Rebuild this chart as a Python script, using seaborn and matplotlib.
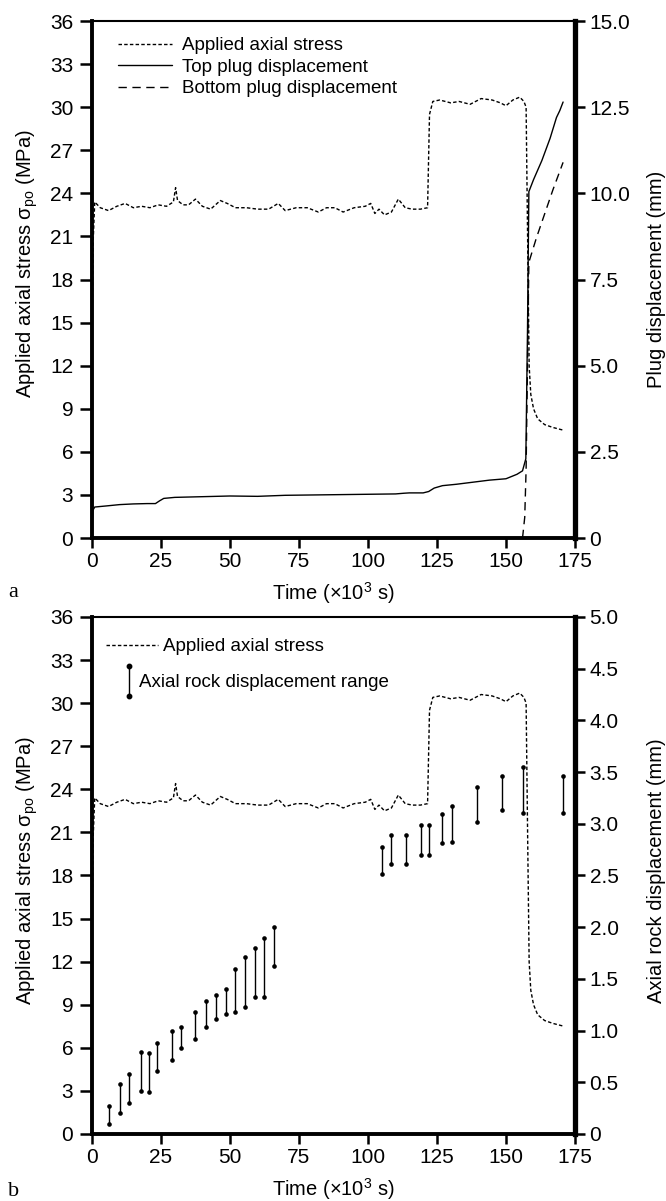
import numpy as np
import pandas as pd
import matplotlib
matplotlib.use('Agg')
import matplotlib.pyplot as plt
import seaborn as sns
from matplotlib.lines import Line2D
from matplotlib.legend_handler import HandlerBase

# 응력 곡선 (두 패널 공통)
stress_t = [0, 0.4, 1, 3, 6, 9, 12, 15, 18, 21, 24, 27, 29.5, 30.3, 31, 33, 35, 37.5, 40, 43,
            46.5, 49, 52, 56, 60, 64, 67.5, 70, 74, 78, 82, 85, 88, 91, 95, 99, 101, 102.5, 104, 106,
            108.5, 111, 113.5, 116, 119, 121.6, 122.3, 123.5, 126, 130, 133, 137, 141, 145, 148, 150,
            152.5, 155, 156.5, 157.3, 157.9, 158.4, 159, 160, 161.5, 164, 167, 171]
stress = [14.0, 20.5, 23.4, 23.0, 22.8, 23.1, 23.3, 23.0, 23.1, 23.0, 23.2, 23.1, 23.4, 24.4, 23.5,
          23.2, 23.2, 23.6, 23.1, 22.9, 23.5, 23.3, 23.0, 23.0, 22.9, 22.9, 23.3, 22.8, 23.0, 23.0,
          22.7, 23.0, 23.0, 22.7, 23.0, 23.1, 23.3, 22.6, 22.9, 22.5, 22.7, 23.6, 23.0, 22.9, 22.9,
          23.0, 29.5, 30.4, 30.5, 30.3, 30.4, 30.2, 30.6, 30.5, 30.3, 30.1, 30.5, 30.7, 30.4, 30.0,
          20.0, 12.0, 10.0, 9.0, 8.3, 7.9, 7.7, 7.5]

# 상부 플러그 변위 (mm)
top_t = [0, 0.3, 1, 5, 10, 15, 20, 23, 24.5, 26, 30, 40, 50, 60, 70, 80, 90, 100, 110, 113,
         115, 120, 122, 124, 127, 132, 138, 144, 150, 154, 156, 157.2, 157.8, 158.3, 160, 163, 166,
         168.3, 169.5, 170.7]
top_disp = [0.35, 0.8, 0.9, 0.93, 0.97, 0.99, 1.0, 1.0, 1.08, 1.15, 1.18, 1.2, 1.22, 1.21, 1.24,
            1.25, 1.26, 1.27, 1.28, 1.30, 1.31, 1.31, 1.35, 1.45, 1.52, 1.56, 1.62, 1.68, 1.72, 1.85,
            1.95, 2.3, 6.0, 10.05, 10.4, 10.95, 11.6, 12.2, 12.4, 12.65]

# 하부 플러그 변위 (mm)
bot_t = [156.0, 156.8, 157.3, 157.8, 158.3, 161, 164, 167, 170.7]
bot_disp = [0.0, 0.6, 2.0, 5.0, 8.0, 8.7, 9.4, 10.1, 10.9]

# 축방향 암석 변위 범위 (mm)
range_t = [6.2, 10.0, 13.4, 17.7, 20.7, 23.7, 29.0, 32.4, 37.3, 41.2, 44.9, 48.6, 51.8, 55.5,
           58.9, 62.4, 66.1, 105.0, 108.5, 113.9, 119.2, 122.0, 126.9, 130.3, 139.4, 148.6, 156.0, 170.8]
range_lo = [0.10, 0.20, 0.30, 0.42, 0.41, 0.61, 0.72, 0.83, 0.92, 1.03, 1.11, 1.16, 1.18, 1.23,
            1.32, 1.32, 1.62, 2.51, 2.61, 2.61, 2.70, 2.70, 2.81, 2.82, 3.02, 3.13, 3.10, 3.10]
range_hi = [0.27, 0.48, 0.58, 0.79, 0.78, 0.88, 1.00, 1.03, 1.18, 1.29, 1.34, 1.40, 1.60, 1.71,
            1.80, 1.90, 2.00, 2.78, 2.89, 2.89, 2.99, 2.99, 3.09, 3.17, 3.36, 3.46, 3.55, 3.46]

stress_ticks = list(range(0, 37, 3))
time_ticks = list(range(0, 176, 25))

sns.set_style('ticks', rc={'axes.edgecolor': 'black', 'xtick.color': 'black', 'ytick.color': 'black',
                           'text.color': 'black', 'axes.labelcolor': 'black'})
plt.rcParams['font.family'] = ['Liberation Sans', 'DejaVu Sans']
plt.rcParams['mathtext.fontset'] = 'custom'
plt.rcParams['mathtext.rm'] = 'Liberation Sans'
plt.rcParams['mathtext.it'] = 'Liberation Sans:italic'
plt.rcParams['axes.unicode_minus'] = False

TICK_FS = 15
LAB_FS = 14.5
LEG_FS = 13.5
stress_ls = (0, (2.5, 1.6))
bot_ls = (0, (6, 4))

df_s = pd.DataFrame({'t': stress_t, 's': stress})
df_top = pd.DataFrame({'t': top_t, 'd': top_disp})
df_bot = pd.DataFrame({'t': bot_t, 'd': bot_disp})
df_r = pd.DataFrame({'t': range_t, 'lo': range_lo, 'hi': range_hi})


class RangeHandler(HandlerBase):
    def create_artists(self, legend, orig_handle, xdescent, ydescent, width, height, fontsize, trans):
        x = width / 2 - xdescent
        ln = Line2D([x, x], [-ydescent - 0.62 * height, -ydescent + 1.62 * height],
                    color='k', lw=1.0, marker='o', ms=3.2, transform=trans)
        return [ln]


def style_axes(ax, ax2, rmax, rstep, rlabel, ly, ry):
    ax.set_xlim(0, 175)
    ax.set_ylim(0, 36)
    ax.set_xticks(time_ticks)
    ax.set_yticks(stress_ticks)
    ax2.set_ylim(0, rmax)
    rt = np.arange(0, rmax + 1e-9, rstep)
    ax2.set_yticks(rt)
    ax2.set_yticklabels(['0'] + ['{:.1f}'.format(v) for v in rt[1:]])
    for side in ['left', 'bottom']:
        ax.spines[side].set_linewidth(2.8)
    ax.spines['top'].set_linewidth(1.5)
    ax.spines['right'].set_visible(False)
    for side in ['left', 'bottom', 'top']:
        ax2.spines[side].set_visible(False)
    ax2.spines['right'].set_linewidth(3.8)
    ax.tick_params(axis='y', direction='out', length=8.5, width=1.8, labelsize=TICK_FS, pad=5)
    ax.tick_params(axis='x', direction='out', length=7, width=1.8, labelsize=TICK_FS, pad=3)
    ax2.tick_params(axis='y', direction='out', length=7, width=1.8, labelsize=TICK_FS, pad=3.5)
    ax.set_xlabel('Time (×10$^{3}$ s)', fontsize=LAB_FS)
    ax.set_ylabel('Applied axial stress σ$_{\\mathrm{po}}$ (MPa)', fontsize=LAB_FS)
    ax2.set_ylabel(rlabel, fontsize=LAB_FS, rotation=90, va='center')
    ax.xaxis.set_label_coords(0.5, -0.081)
    ax.yaxis.set_label_coords(-0.108, ly)
    ax2.yaxis.set_label_coords(1.168, ry)


fig = plt.figure(figsize=(6.66, 12.01), dpi=100)
fig.patch.set_facecolor('white')

# (a) 상부 패널
ax_a = fig.add_axes([0.1381, 0.552, 0.7252, 0.4305])
ax_a2 = ax_a.twinx()
sns.lineplot(data=df_s, x='t', y='s', ax=ax_a, color='k', lw=1.0, linestyle=stress_ls,
             estimator=None, sort=False)
sns.lineplot(data=df_top, x='t', y='d', ax=ax_a2, color='k', lw=1.0, estimator=None, sort=False)
sns.lineplot(data=df_bot, x='t', y='d', ax=ax_a2, color='k', lw=1.0, linestyle=bot_ls,
             estimator=None, sort=False)
style_axes(ax_a, ax_a2, 15.0, 2.5, 'Plug displacement (mm)', 0.53, 0.5)

h_a = [Line2D([], [], color='k', lw=1.0, linestyle=stress_ls),
       Line2D([], [], color='k', lw=1.0),
       Line2D([], [], color='k', lw=1.0, linestyle=bot_ls)]
ax_a.legend(h_a, ['Applied axial stress', 'Top plug displacement', 'Bottom plug displacement'],
            loc='upper left', bbox_to_anchor=(0.054, 0.969), frameon=False, fontsize=LEG_FS,
            borderaxespad=0, borderpad=0, handlelength=2.88, handletextpad=0.53, labelspacing=0.24)

# (b) 하부 패널
ax_b = fig.add_axes([0.1381, 0.0558, 0.7252, 0.4305])
ax_b2 = ax_b.twinx()
sns.lineplot(data=df_s, x='t', y='s', ax=ax_b, color='k', lw=1.0, linestyle=stress_ls,
             estimator=None, sort=False)
ax_b2.vlines(df_r['t'], df_r['lo'], df_r['hi'], color='k', lw=1.0)
sns.scatterplot(x=np.concatenate([df_r['t'], df_r['t']]),
                y=np.concatenate([df_r['lo'], df_r['hi']]),
                ax=ax_b2, color='k', s=11, linewidth=0, marker='o')
style_axes(ax_b, ax_b2, 5.0, 0.5, 'Axial rock displacement (mm)', 0.51, 0.51)

leg1 = ax_b.legend([Line2D([], [], color='k', lw=1.0, linestyle=stress_ls)], ['Applied axial stress'],
                   loc='upper left', bbox_to_anchor=(0.029, 0.959), frameon=False, fontsize=LEG_FS,
                   borderaxespad=0, borderpad=0, handlelength=2.77, handletextpad=0.27)
ax_b.add_artist(leg1)
ax_b.legend([object()], ['Axial rock displacement range'], handler_map={object: RangeHandler()},
            loc='upper left', bbox_to_anchor=(0.065, 0.889), frameon=False, fontsize=LEG_FS,
            borderaxespad=0, borderpad=0, handlelength=0.6, handletextpad=0.24)

serif = ['Liberation Serif', 'DejaVu Serif']
fig.text(0.012, 1 - 597 / 1201, 'a', fontsize=16, family=serif, va='baseline')
fig.text(0.012, 1 - 1196 / 1201, 'b', fontsize=16, family=serif, va='baseline')

fig.savefig('out.png', dpi=100, facecolor='white')
